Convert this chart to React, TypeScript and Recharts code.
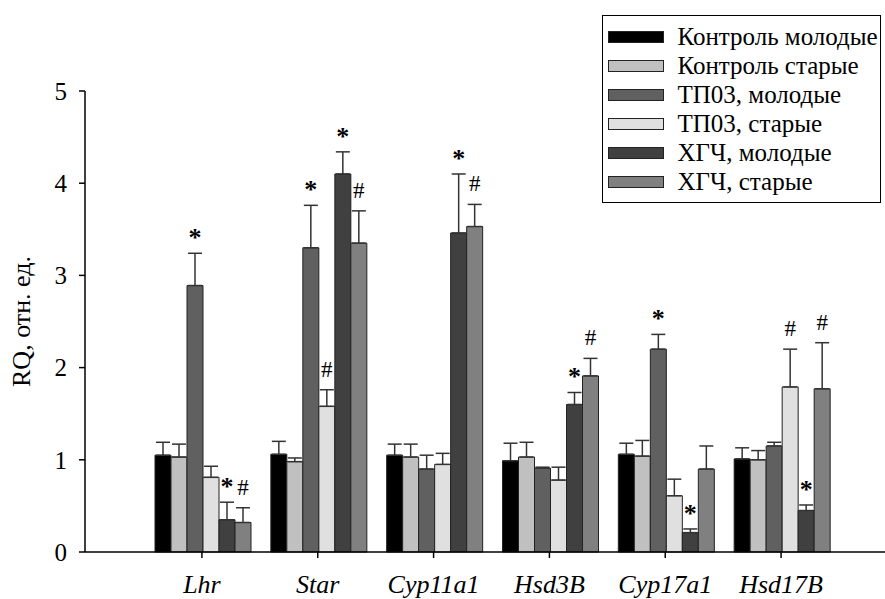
import { BarChart, Bar, XAxis, YAxis, ErrorBar, LabelList, Legend } from "recharts";

const FONT = "'Liberation Serif', 'Times New Roman', serif";

// категории (гены)
const categories = ["Lhr", "Star", "Cyp11a1", "Hsd3B", "Cyp17a1", "Hsd17B"];

// группы
const seriesNames = [
  "Контроль молодые",
  "Контроль старые",
  "ТП03, молодые",
  "ТП03, старые",
  "ХГЧ, молодые",
  "ХГЧ, старые",
];
const seriesColors = ["#000000", "#c0c0c0", "#606060", "#e0e0e0", "#404040", "#808080"];

// средние значения RQ
const ctrlYoung = [1.05, 1.06, 1.05, 0.99, 1.06, 1.01];
const ctrlOld = [1.03, 0.98, 1.03, 1.03, 1.04, 1.0];
const tp03Young = [2.89, 3.3, 0.9, 0.91, 2.2, 1.15];
const tp03Old = [0.81, 1.58, 0.95, 0.78, 0.61, 1.79];
const hcgYoung = [0.35, 4.1, 3.46, 1.6, 0.21, 0.45];
const hcgOld = [0.32, 3.35, 3.53, 1.91, 0.9, 1.77];

// ошибки (только вверх)
const ctrlYoungErr = [0.14, 0.14, 0.12, 0.19, 0.12, 0.12];
const ctrlOldErr = [0.14, 0.04, 0.14, 0.16, 0.17, 0.1];
const tp03YoungErr = [0.35, 0.46, 0.15, 0.01, 0.16, 0.04];
const tp03OldErr = [0.12, 0.18, 0.12, 0.14, 0.18, 0.41];
const hcgYoungErr = [0.19, 0.24, 0.64, 0.13, 0.04, 0.06];
const hcgOldErr = [0.16, 0.35, 0.24, 0.19, 0.25, 0.5];

// значки достоверности
const ctrlYoungSig = ["", "", "", "", "", ""];
const ctrlOldSig = ["", "", "", "", "", ""];
const tp03YoungSig = ["*", "*", "", "", "*", ""];
const tp03OldSig = ["", "#", "", "", "", "#"];
const hcgYoungSig = ["*", "*", "*", "*", "*", "*"];
const hcgOldSig = ["#", "#", "#", "#", "", "#"];

const yTicks = [0, 1, 2, 3, 4, 5];

const values = [ctrlYoung, ctrlOld, tp03Young, tp03Old, hcgYoung, hcgOld];
const errors = [ctrlYoungErr, ctrlOldErr, tp03YoungErr, tp03OldErr, hcgYoungErr, hcgOldErr];
const marks = [ctrlYoungSig, ctrlOldSig, tp03YoungSig, tp03OldSig, hcgYoungSig, hcgOldSig];

const data = categories.map((name, i) => {
  const row: any = { name };
  values.forEach((s, k) => {
    row[`v${k}`] = s[i];
    row[`e${k}`] = [0, errors[k][i]];
    row[`m${k}`] = marks[k][i];
  });
  return row;
});

const W = 885;
const H = 599;
const TOP = 91;
const XAXIS_H = 47;
const PX_PER_UNIT = (H - TOP - XAXIS_H) / 5;

const XTick = ({ x, y, payload }: any) => (
  <text
    x={x}
    y={y + 33}
    textAnchor="middle"
    fill="#000"
    fontSize={26}
    fontStyle="italic"
    fontFamily={FONT}
  >
    {payload.value}
  </text>
);

// звёздочка / решётка над планкой ошибки
const makeMark = (k: number) => (props: any) => {
  const { x, y, width, value, index } = props;
  if (!value) return null;
  const errTop = y - errors[k][index] * PX_PER_UNIT;
  const star = value === "*";
  return (
    <text
      x={x + width / 2}
      y={errTop - (star ? 7 : 13)}
      textAnchor="middle"
      fill="#000"
      fontSize={star ? 26 : 23}
      fontWeight={star ? 700 : 400}
      fontFamily={FONT}
    >
      {value}
    </text>
  );
};

const LegendBox = () => (
  <div
    style={{
      boxSizing: "border-box",
      width: 279,
      height: 188,
      border: "1.5px solid #000",
      background: "#fff",
      paddingTop: 6,
      paddingLeft: 4.5,
      fontFamily: FONT,
      fontSize: 25,
      color: "#000",
    }}
  >
    {seriesNames.map((n, i) => (
      <div key={n} style={{ display: "flex", alignItems: "center", height: 29 }}>
        <span
          style={{
            display: "inline-block",
            boxSizing: "border-box",
            width: 56,
            height: 12,
            background: seriesColors[i],
            border: "1px solid #222",
            marginRight: 14,
            flexShrink: 0,
          }}
        />
        <span style={{ whiteSpace: "nowrap", lineHeight: "29px" }}>{n}</span>
      </div>
    ))}
  </div>
);

export default function App() {
  return (
    <div style={{ width: W, height: H, background: "#fff", fontFamily: FONT }}>
      <style>{`body{margin:0}`}</style>
      <BarChart
        width={W}
        height={H}
        data={data}
        margin={{ top: TOP, right: 0, bottom: 0, left: 0 }}
        barCategoryGap={11}
        barGap={0}
      >
        <XAxis
          dataKey="name"
          height={XAXIS_H}
          padding={{ left: 59, right: 46 }}
          axisLine={{ stroke: "#000", strokeWidth: 1.5 }}
          tickLine={{ stroke: "#000", strokeWidth: 1.5 }}
          tickSize={6}
          tickMargin={2}
          tick={<XTick />}
          interval={0}
        />
        <YAxis
          width={85}
          domain={[0, 5]}
          ticks={yTicks}
          axisLine={{ stroke: "#000", strokeWidth: 1.5 }}
          tickLine={{ stroke: "#000", strokeWidth: 1.5 }}
          tickSize={6}
          tickMargin={12}
          tick={{ fill: "#000", fontSize: 25, fontFamily: FONT }}
          label={{
            value: "RQ, отн. ед.",
            angle: -90,
            position: "insideLeft",
            offset: 21,
            style: { textAnchor: "middle", fontSize: 26, fontFamily: FONT, fill: "#000" },
          }}
        />
        <Legend
          layout="horizontal"
          verticalAlign="middle"
          align="center"
          wrapperStyle={{ top: 15, left: 602, width: 279, height: 188 }}
          content={<LegendBox />}
        />
        {seriesNames.map((n, k) => (
          <Bar
            key={n}
            name={n}
            dataKey={`v${k}`}
            fill={seriesColors[k]}
            stroke="#222"
            strokeWidth={1}
            isAnimationActive={false}
          >
            <ErrorBar dataKey={`e${k}`} width={7} stroke="#333" strokeWidth={1.5} />
            <LabelList dataKey={`m${k}`} content={makeMark(k)} />
          </Bar>
        ))}
      </BarChart>
    </div>
  );
}
